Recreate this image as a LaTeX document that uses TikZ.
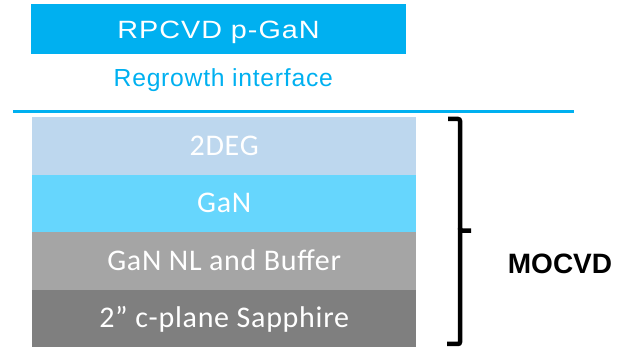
\documentclass[tikz,border=0pt]{standalone}
\usepackage{fontspec}
\setmainfont{Liberation Sans}
\newfontfamily\arialwide[FakeStretch=1.15,LetterSpace=4]{Liberation Sans}
\newfontfamily\arialreg[LetterSpace=3]{Liberation Sans}
\newfontfamily\calib[LetterSpace=2.4]{Carlito}
\definecolor{topblue}{HTML}{00B0F0}
\definecolor{degblue}{HTML}{BDD7EE}
\definecolor{ganblue}{HTML}{66D6FD}
\definecolor{nlgray}{HTML}{A5A5A5}
\definecolor{sapgray}{HTML}{7F7F7F}
\begin{document}
\begin{tikzpicture}[x=1pt,y=-1pt,
  layer/.style={fill=#1, minimum width=384pt, minimum height=57.5pt, inner sep=0pt,
    anchor=north west, text=white, font=\calib\fontsize{30}{30}\selectfont,
    text height=19pt, text depth=0pt},
  topbox/.style={fill=topblue, minimum width=374.7pt, minimum height=50pt, inner sep=0pt,
    anchor=north west, text=white, font=\arialwide\fontsize{25}{25}\selectfont,
    text height=17.9pt, text depth=0pt},
  plainlabel/.style={inner sep=0pt, text height=17.7pt, text depth=0pt},
  bracestroke/.style={line width=4.5pt, black, rounded corners=2pt}]
\useasboundingbox (0,0) rectangle (627,347);
\node[topbox] (rpcvd) at (31,4) {RPCVD p-GaN};
\node[plainlabel, text=topblue, font=\arialreg\fontsize{24.7}{24.7}\selectfont] (regrowth) at (223.3,77.2) {Regrowth interface};
\coordinate (lineL) at (13,111.7);
\coordinate (lineR) at (574,111.7);
\draw[topblue, line width=3pt] (lineL) -- (lineR);
\node[layer=degblue] (deg) at (32,117) {2DEG};
\node[layer=ganblue] (gan) at (32,174.5) {GaN};
\node[layer=nlgray] (nl) at (32,232) {GaN NL and Buffer};
\node[layer=sapgray] (sap) at (32,289.5) {2” c-plane Sapphire};
\draw[bracestroke] (448,119) -- (460,119) -- (460,230.7) -- (471,230.7);
\draw[bracestroke] (460,228) -- (460,344) -- (447,344);
\node[inner sep=0pt, text height=20pt, text depth=0pt, font=\bfseries\fontsize{28}{28}\selectfont] (mocvd) at (560,263.3) {MOCVD};
\end{tikzpicture}
\end{document}
